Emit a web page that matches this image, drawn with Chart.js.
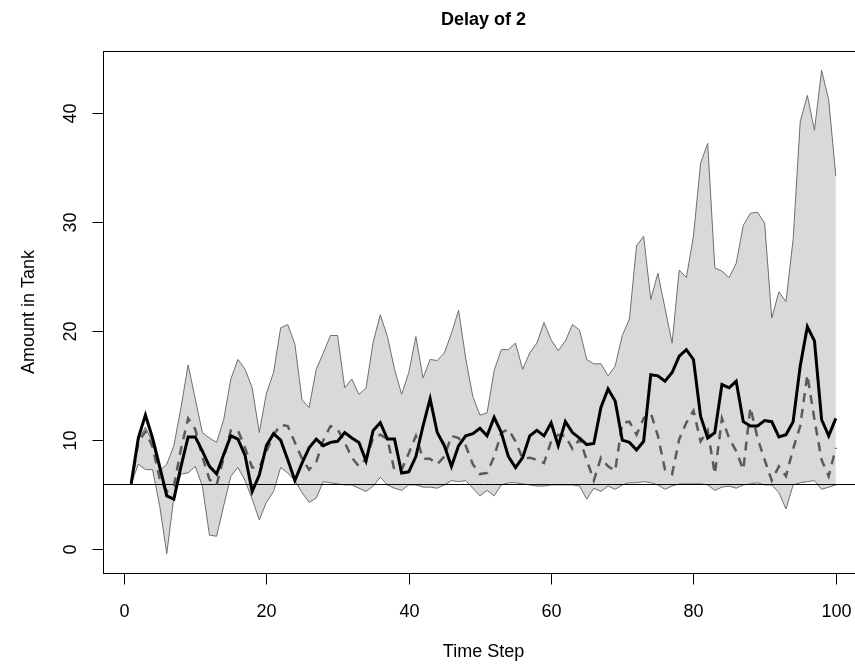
<!DOCTYPE html>
<html>
<head>
<meta charset="utf-8">
<title>Delay of 2</title>
<script src="https://cdn.jsdelivr.net/npm/chart.js@4.4.1/dist/chart.umd.min.js"></script>
<style>
  html, body { margin: 0; padding: 0; background: #fff; overflow: hidden; }
  #wrap { width: 866px; height: 669px; }
</style>
</head>
<body>
<div id="wrap"><canvas id="tank" width="866" height="669"></canvas></div>
<script>
// Amount in tank per time step
var upperBand = [
  6.0, 10.0, 11.2, 9.8, 7.2, 7.8, 9.5, 13.0, 16.9, 13.8,
  10.7, 10.2, 9.8, 11.9, 15.6, 17.4, 16.5, 14.8, 10.7, 14.3,
  16.2, 20.3, 20.6, 18.8, 13.7, 13.0, 16.5, 18.0, 19.6, 19.6,
  14.8, 15.6, 14.2, 14.8, 19.0, 21.5, 19.5, 16.5, 14.2, 16.2,
  19.5, 15.7, 17.4, 17.3, 18.0, 19.8, 21.9, 17.5, 14.0, 12.3,
  12.5, 16.4, 18.3, 18.3, 18.9, 16.5, 18.0, 18.9, 20.8, 19.2,
  18.2, 19.1, 20.6, 20.1, 17.4, 17.0, 17.0, 15.9, 16.8, 19.6,
  21.1, 27.8, 28.7, 22.9, 25.3, 22.1, 18.9, 25.6, 24.9, 28.7,
  35.4, 37.2, 25.8, 25.5, 24.9, 26.2, 29.7, 30.8, 30.9, 29.9,
  21.2, 23.6, 22.7, 28.4, 39.2, 41.6, 38.4, 43.9, 41.2, 34.2
];
var lowerBand = [
  6.0, 7.8, 7.3, 7.3, 4.0, -0.4, 4.8, 6.9, 7.0, 7.6,
  5.8, 1.3, 1.2, 4.0, 6.7, 7.5, 6.3, 4.6, 2.7, 4.3,
  5.3, 7.5, 7.0, 6.3, 5.2, 4.3, 4.7, 6.2, 6.1, 6.0,
  5.9, 5.9, 5.6, 5.3, 5.8, 6.6, 5.9, 5.6, 5.4, 5.9,
  5.9, 5.7, 5.7, 5.6, 5.9, 6.3, 6.2, 6.3, 5.6, 4.9,
  5.4, 4.9, 5.9, 6.1, 6.1, 6.0, 5.9, 5.8, 5.8, 5.9,
  5.9, 5.9, 5.9, 5.8, 4.6, 5.6, 5.3, 5.8, 5.5, 5.9,
  6.1, 6.1, 6.2, 6.1, 5.9, 5.5, 5.8, 6.0, 6.0, 6.0,
  6.0, 5.9, 5.4, 5.7, 5.8, 5.6, 5.9, 6.0, 6.1, 5.9,
  5.9, 5.2, 3.7, 5.9, 6.1, 6.2, 6.3, 5.5, 5.7, 5.9
];
var meanAmount = [
  6.0, 10.2, 12.3, 10.2, 7.6, 4.9, 4.6, 7.6, 10.3, 10.3,
  9.0, 7.6, 6.9, 8.7, 10.4, 10.1, 8.6, 5.3, 6.8, 9.5,
  10.6, 10.0, 8.2, 6.3, 7.9, 9.3, 10.1, 9.5, 9.8, 9.9,
  10.7, 10.2, 9.8, 8.1, 10.9, 11.6, 10.1, 10.1, 7.0, 7.1,
  8.5, 11.3, 13.8, 10.7, 9.5, 7.6, 9.5, 10.4, 10.6, 11.1,
  10.4, 12.1, 10.7, 8.5, 7.5, 8.4, 10.4, 10.9, 10.4, 11.6,
  9.5, 11.7, 10.7, 10.2, 9.6, 9.7, 13.0, 14.7, 13.6, 10.0,
  9.8, 9.1, 9.9, 16.0, 15.9, 15.4, 16.2, 17.7, 18.3, 17.4,
  12.2, 10.2, 10.7, 15.1, 14.8, 15.4, 11.7, 11.3, 11.3, 11.8,
  11.7, 10.3, 10.5, 11.7, 16.8, 20.4, 19.1, 11.9, 10.4, 12.0
];
var noDelayAmount = [
  6.0, 9.8, 10.8, 9.4, 6.5, 5.3, 5.8, 9.2, 12.0, 11.0,
  8.5, 6.4, 5.9, 8.4, 10.9, 10.9, 9.3, 7.5, 7.5, 9.0,
  10.5, 11.4, 11.3, 9.8, 8.3, 7.3, 8.0, 10.0, 11.3, 11.0,
  9.8, 8.4, 7.6, 8.3, 10.2, 10.5, 10.1, 7.2, 7.3, 8.8,
  10.4, 8.3, 8.3, 7.8, 8.5, 10.4, 10.2, 9.5, 7.8, 6.9,
  7.0, 8.5, 10.7, 11.0, 9.9, 8.3, 8.4, 8.2, 7.9, 9.9,
  10.5, 10.4, 9.2, 10.1, 8.2, 6.3, 8.4, 7.6, 7.2, 11.6,
  11.7, 10.5, 12.0, 12.5, 10.4, 7.3, 6.9, 10.1, 11.6, 12.7,
  9.9, 10.9, 6.9, 12.0, 10.2, 9.0, 7.3, 13.0, 10.2, 8.2,
  6.3, 7.6, 6.7, 9.2, 11.3, 16.0, 11.9, 8.2, 6.7, 9.3
];
var threshold = 6;

var xTicks = [0, 20, 40, 60, 80, 100];
var yTicks = [0, 10, 20, 30, 40];

var steps = [];
for (var i = 1; i <= meanAmount.length; i++) steps.push(i);

function pts(vals) {
  return vals.map(function(v, i) { return { x: steps[i], y: v }; });
}

var FONT = '"Liberation Sans", Arial, Helvetica, sans-serif';

// R風の枠・軸・ラベル
var rAxes = {
  id: 'rAxes',
  afterDatasetDraw: function(chart, args) {
    if (args.index !== 3) return;
    // 閾値の水平線（帯の上、線の下）
    var ctx = chart.ctx, a = chart.chartArea;
    var y = Math.round(chart.scales.y.getPixelForValue(threshold)) + 0.5;
    ctx.save();
    ctx.strokeStyle = '#000';
    ctx.lineWidth = 1;
    ctx.beginPath();
    ctx.moveTo(a.left, y);
    ctx.lineTo(a.right, y);
    ctx.stroke();
    ctx.restore();
  },
  afterDraw: function(chart) {
    var ctx = chart.ctx, a = chart.chartArea;
    var xs = chart.scales.x, ys = chart.scales.y;
    ctx.save();
    ctx.strokeStyle = '#000';
    ctx.fillStyle = '#000';
    ctx.lineWidth = 1;

    // box
    var l = Math.round(a.left) + 0.5, t = Math.round(a.top) + 0.5;
    var r = Math.round(a.right) + 0.5, b = Math.round(a.bottom) + 0.5;
    ctx.strokeRect(l, t, r - l, b - t);

    // x axis ticks
    ctx.font = '18px ' + FONT;
    ctx.textAlign = 'center';
    ctx.textBaseline = 'alphabetic';
    xTicks.forEach(function(v) {
      var px = Math.round(xs.getPixelForValue(v)) + 0.5;
      ctx.beginPath();
      ctx.moveTo(px, b);
      ctx.lineTo(px, b + 11);
      ctx.stroke();
      ctx.fillText(String(v), px, b + 43);
    });

    // y axis ticks (rotated labels)
    yTicks.forEach(function(v) {
      var py = Math.round(ys.getPixelForValue(v)) + 0.5;
      ctx.beginPath();
      ctx.moveTo(l, py);
      ctx.lineTo(l - 11, py);
      ctx.stroke();
      ctx.save();
      ctx.translate(l - 28, py);
      ctx.rotate(-Math.PI / 2);
      ctx.fillText(String(v), 0, 0);
      ctx.restore();
    });

    // axis titles
    var cx = (a.left + a.right) / 2;
    ctx.fillText('Time Step', cx, b + 83);
    ctx.save();
    ctx.translate(l - 70, (a.top + a.bottom) / 2);
    ctx.rotate(-Math.PI / 2);
    ctx.fillText('Amount in Tank', 0, 0);
    ctx.restore();

    // main title
    ctx.font = 'bold 18px ' + FONT;
    ctx.fillText('Delay of 2', cx, 25);
    ctx.restore();
  }
};

new Chart(document.getElementById('tank'), {
  type: 'line',
  data: {
    datasets: [
      {
        label: 'Mean',
        data: pts(meanAmount),
        borderColor: '#000',
        borderWidth: 3,
        pointRadius: 0,
        fill: false,
        order: 0
      },
      {
        label: 'No delay',
        data: pts(noDelayAmount),
        borderColor: '#5a5a5a',
        borderWidth: 2.5,
        borderDash: [9, 7],
        pointRadius: 0,
        fill: false,
        order: 1
      },
      {
        label: 'Upper',
        data: pts(upperBand),
        borderColor: '#6e6e6e',
        borderWidth: 1,
        backgroundColor: '#d9d9d9',
        pointRadius: 0,
        fill: 3,
        order: 3
      },
      {
        label: 'Lower',
        data: pts(lowerBand),
        borderColor: '#6e6e6e',
        borderWidth: 1,
        pointRadius: 0,
        fill: false,
        order: 2
      }
    ]
  },
  options: {
    responsive: false,
    animation: false,
    devicePixelRatio: 1,
    layout: { padding: { left: 103, top: 51, right: 2, bottom: 96 } },
    plugins: {
      legend: { display: false },
      tooltip: { enabled: false }
    },
    elements: { line: { tension: 0 } },
    scales: {
      x: { type: 'linear', min: -2.96, max: 103.96, display: false },
      y: { type: 'linear', min: -2.17, max: 45.67, display: false }
    }
  },
  plugins: [rAxes]
});
</script>
</body>
</html>
